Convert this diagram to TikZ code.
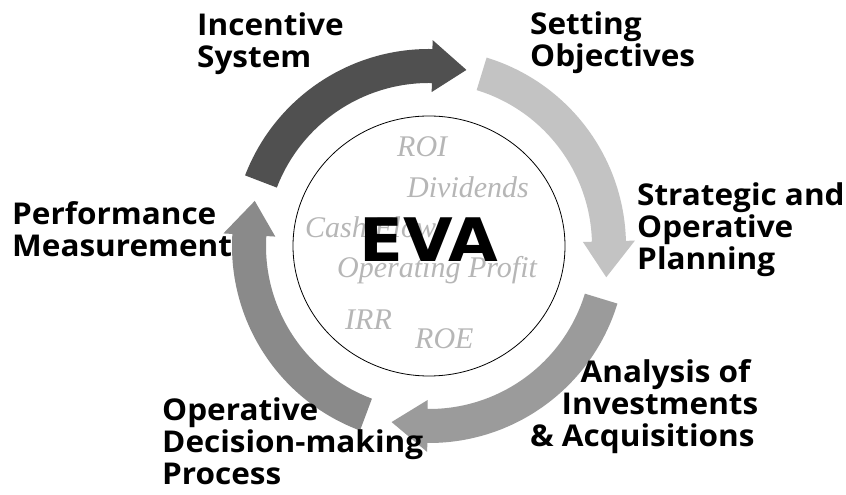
\documentclass[tikz,border=0pt]{standalone}
\usepackage{fontspec}
\setmainfont{Open Sans}
\newfontfamily\evafont{DejaVu Sans}
\newfontfamily\wordfont{Liberation Serif}
\usetikzlibrary{calc}

\definecolor{arrowdark}{HTML}{505050}
\definecolor{arrowlight}{HTML}{C3C3C3}
\definecolor{arrowmid}{HTML}{9B9B9B}
\definecolor{arrowmiddark}{HTML}{8A8A8A}
\definecolor{wordgray}{HTML}{B6B6B6}

% ring geometry (pt)
\def\ringin{163}
\def\ringout{197}
\def\ringmid{180}
\def\headin{154}
\def\headout{206}

% curved clockwise arrow on the ring: #1 colour, #2 tail angle, #3 head base angle, #4 tip angle
\newcommand\ringarrow[4]{%
  \fill[#1] (#2:\ringout) arc[start angle=#2, end angle=#3, radius=\ringout]
    -- (#3:\headout) -- (#4:\ringmid) -- (#3:\headin) -- (#3:\ringin)
    arc[start angle=#3, end angle=#2, radius=\ringin] -- cycle;}

% multi-line nodes sit on the baseline of their last line
\tikzset{
  steplabel/.style={inner sep=0pt, anchor=base west, align=left, xscale=1.05,
    font=\fontsize{30}{32}\selectfont\bfseries},
  kpi/.style={inner sep=0pt, anchor=base west, text=wordgray,
    font=\wordfont\itshape\fontsize{30}{30}\selectfont},
}

\begin{document}
\begin{tikzpicture}[x=1pt,y=1pt]
\useasboundingbox (0,0) rectangle (846,495);
\fill[white] (0,0) rectangle (846,495);

\begin{scope}[shift={(429,249)}]
  \ringarrow{arrowdark}{159}{89}{78}
  \ringarrow{arrowlight}{73}{1.5}{-10}
  \ringarrow{arrowmid}{-17}{-90.5}{-102}
  \ringarrow{arrowmiddark}{249.5}{176.5}{165.5}
  \draw[black, line width=0.8pt] (0,0) ellipse[x radius=136, y radius=130];
\end{scope}

% performance measures behind the centre
\node[kpi] (roi) at (397,338) {ROI};
\node[kpi] (div) at (407,297) {Dividends};
\node[kpi] (cash) at (305,257) {Cash Flow};
\node[kpi] (op) at (337,217) {Operating Profit};
\node[kpi] (irr) at (345,165) {IRR};
\node[kpi] (roe) at (415,146) {ROE};

\node[inner sep=0pt, anchor=base, xscale=1.07,
  font=\evafont\bfseries\fontsize{60}{60}\selectfont] (eva) at (429,233) {EVA};

% steps of the cycle
\node[steplabel] (incentive) at (197,427) {Incentive\\System};
\node[steplabel] (objectives) at (530,428) {Setting\\Objectives};
\node[steplabel] (planning) at (637,225) {Strategic and\\Operative\\Planning};
\node[steplabel] (measure) at (12,238) {Performance\\Measurement};
\node[steplabel] (analysis) at (530,48) {\hspace*{48pt}Analysis of\\\hspace*{30pt}Investments\\\& Acquisitions};
\node[steplabel] (decision) at (162,10) {Operative\\Decision-making\\Process};
\end{tikzpicture}
\end{document}
